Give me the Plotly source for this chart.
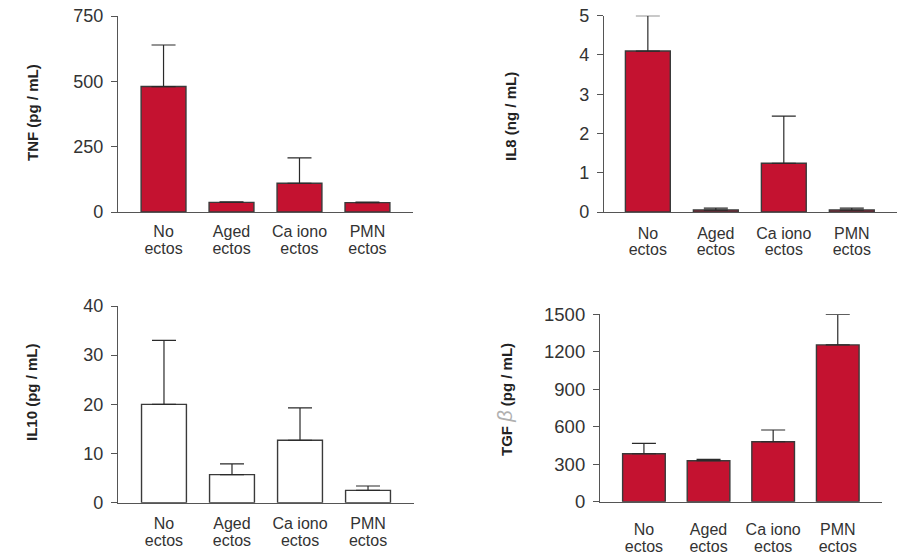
import plotly.graph_objects as go

# Groups shown on every panel, split into the two label lines
categories = ["No ectos", "Aged ectos", "Ca iono ectos", "PMN ectos"]
label_line1 = ["No", "Aged", "Ca iono", "PMN"]
label_line2 = ["ectos", "ectos", "ectos", "ectos"]

# Mean values and upper error bound (mean + SD) for each cytokine
tnf_mean = [480, 37, 110, 36]
tnf_upper = [639, 39, 207, 38]

il8_mean = [4.1, 0.05, 1.24, 0.05]
il8_upper = [5.0, 0.1, 2.44, 0.1]

il10_mean = [20.0, 5.7, 12.7, 2.5]
il10_upper = [33.0, 7.9, 19.3, 3.4]

tgf_mean = [384, 328, 480, 1255]
tgf_upper = [467, 339, 574, 1500]

tnf_ticks = [0, 250, 500, 750]
il8_ticks = [0, 1, 2, 3, 4, 5]
il10_ticks = [0, 10, 20, 30, 40]
tgf_ticks = [0, 300, 600, 900, 1200, 1500]

W, H = 900, 556
RED = "#C41230"
EDGE = "#3a3a3a"
AXIS = "#555555"
TEXT = "#333333"
FONT = "Liberation Sans, Arial, sans-serif"


def px_x(p):
    return p / W


def px_y(p):
    return 1 - p / H


panels = [
    dict(mean=tnf_mean, upper=tnf_upper, ticks=tnf_ticks, fill=RED,
         x0=118, x1=413, ytop=16, ybot=212, xr=[-0.67, 3.67], tf=18,
         l1=5, l2=22,
         title="<b>TNF (pg / mL)</b>", tx=32, ty=113),
    dict(mean=il8_mean, upper=il8_upper, ticks=il8_ticks, fill=RED,
         x0=604, x1=897, ytop=15.7, ybot=212, xr=[-0.645, 3.665], tf=18,
         l1=7, l2=23,
         title="<b>IL8 (ng / mL)</b>", tx=510, ty=117),
    dict(mean=il10_mean, upper=il10_upper, ticks=il10_ticks, fill="white",
         x0=118, x1=414, ytop=306, ybot=502.7, xr=[-0.676, 3.676], tf=18,
         l1=6, l2=23,
         title="<b>IL10 (pg / mL)</b>", tx=32, ty=392),
    dict(mean=tgf_mean, upper=tgf_upper, ticks=tgf_ticks, fill=RED,
         x0=600, x1=881.7, ytop=314.3, ybot=501.7, xr=[-0.68, 3.68], tf=18.5,
         l1=13, l2=30,
         title="<b>TGF</b> <span style='color:#b0b0b0;font-size:20px;font-weight:normal'><i>β</i></span> <b>(pg / mL)</b>",
         tx=505, ty=400),
]

fig = go.Figure()
layout = dict(
    width=W, height=H,
    margin=dict(l=0, r=0, t=0, b=0, autoexpand=False),
    paper_bgcolor="white", plot_bgcolor="white",
    showlegend=False,
    font=dict(family=FONT, color=TEXT),
    annotations=[],
)

n = len(panels)
for i, p in enumerate(panels, start=1):
    xa = "x" if i == 1 else f"x{i}"
    ya = "y" if i == 1 else f"y{i}"
    err = [u - m for u, m in zip(p["upper"], p["mean"])]
    fig.add_trace(go.Bar(
        x=categories, y=p["mean"], xaxis=xa, yaxis=ya,
        width=0.66,
        marker=dict(color=p["fill"], line=dict(color=EDGE, width=1.4)),
        error_y=dict(type="data", symmetric=False, array=err,
                     arrayminus=[0] * 4, color="#2a2a2a", thickness=1.2, width=12),
    ))
    top = p["ticks"][-1]
    dom_x = [px_x(p["x0"]), px_x(p["x1"])]
    common_x = dict(
        domain=dom_x, anchor=ya, range=p["xr"], type="category",
        tickmode="array", tickvals=categories,
        tickfont=dict(size=16, color=TEXT, family=FONT),
        ticks="outside", tickcolor="rgba(0,0,0,0)",
        showgrid=False, zeroline=False, fixedrange=True, automargin=False,
    )
    # first label line on the main axis
    layout[f"xaxis{'' if i == 1 else i}"] = dict(
        common_x, ticktext=label_line1, ticklen=p["l1"],
        showline=True, linecolor=AXIS, linewidth=1.2,
    )
    # second label line on an overlaying axis sharing the same scale
    k = n + i
    layout[f"xaxis{k}"] = dict(
        common_x, ticktext=label_line2, ticklen=p["l2"],
        overlaying=xa, showline=False,
    )
    layout[f"yaxis{'' if i == 1 else i}"] = dict(
        domain=[px_y(p["ybot"]), px_y(p["ytop"])],
        anchor=xa, range=[0, top],
        tickmode="array", tickvals=p["ticks"],
        tickfont=dict(size=p["tf"], color=TEXT, family=FONT),
        ticks="outside", ticklen=6, tickcolor=AXIS, tickwidth=1.2,
        ticklabelstandoff=4,
        showline=True, linecolor=AXIS, linewidth=1.2,
        showgrid=False, zeroline=False, fixedrange=True, automargin=False,
    )
    layout["annotations"].append(dict(
        text=p["title"], textangle=-90, showarrow=False,
        xref="paper", yref="paper", x=px_x(p["tx"]), y=px_y(p["ty"]),
        xanchor="center", yanchor="middle",
        font=dict(size=15, color="#222222", family=FONT),
    ))

fig.update_layout(**layout)

# invisible traces so the overlaying label axes are drawn
for i in range(1, n + 1):
    ya = "y" if i == 1 else f"y{i}"
    fig.add_trace(go.Scatter(
        x=categories, y=[None] * 4, xaxis=f"x{n + i}", yaxis=ya,
        mode="markers", hoverinfo="skip", showlegend=False,
    ))

fig.write_html("out.html")
